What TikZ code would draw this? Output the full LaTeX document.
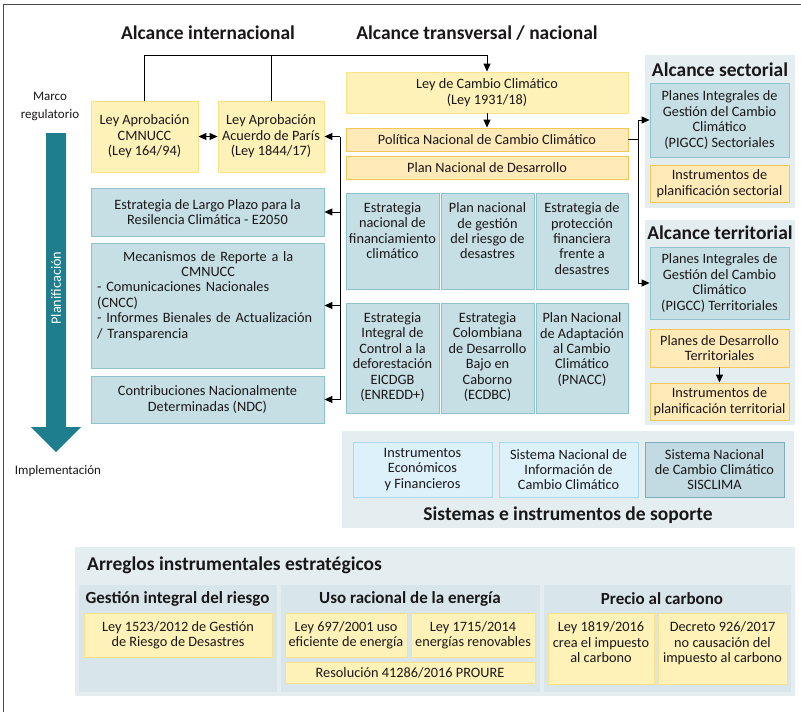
\documentclass[tikz,border=0pt]{standalone}
\usepackage{fontspec}
\setmainfont{Carlito}
\usetikzlibrary{arrows.meta,calc}
\definecolor{ylwf}{HTML}{FFF2B8}
\definecolor{ylwd}{HTML}{FCE08A}
\definecolor{orgf}{HTML}{FFEAB8}
\definecolor{orgd}{HTML}{F8C656}
\definecolor{bluf}{HTML}{C6DFE5}
\definecolor{blud}{HTML}{8EC2CE}
\definecolor{panel}{HTML}{E4EEF1}
\definecolor{subpanel}{HTML}{D8E6EB}
\definecolor{ltbf}{HTML}{DDF1FB}
\definecolor{ltbd}{HTML}{A8D9EE}
\definecolor{sisf}{HTML}{C2DAE1}
\definecolor{sisd}{HTML}{7EADBA}
\definecolor{tealc}{HTML}{1F7E8D}
\definecolor{txt}{HTML}{1A1718}
\definecolor{framec}{HTML}{4A4A4A}
\begin{document}
\begin{tikzpicture}[x=1pt,y=-1pt,
  every node/.style={text=txt, font=\fontsize{14.3}{15.4}\selectfont},
  bx/.style={rectangle, line width=0.9pt, inner sep=0pt, align=center},
  yb/.style={bx, fill=ylwf, draw=ylwd},
  ob/.style={bx, fill=orgf, draw=orgd},
  bb/.style={bx, fill=bluf, draw=blud},
  lb/.style={bx, fill=ltbf, draw=ltbd},
  sb/.style={bx, fill=sisf, draw=sisd},
  tt/.style={inner sep=0pt, align=center, anchor=north},
  hd/.style={font=\fontsize{19.5}{22}\selectfont\bfseries, inner sep=0pt},
  sh/.style={font=\fontsize{17}{20}\selectfont\bfseries, inner sep=0pt},
  sm/.style={font=\fontsize{13}{18}\selectfont, inner sep=0pt, align=center},
  arr/.style={line width=1pt, -{Triangle[length=8pt,width=7pt]}},
  ln/.style={line width=1pt},
]
\useasboundingbox (0,0) rectangle (801,712);
\fill[white] (0,0) rectangle (801,712);
% frame
\draw[framec, line width=1.5pt] (3.5,712) -- (3.5,4.5) -- (801,4.5);

% panels
\fill[panel] (645,55) rectangle (795,208);
\fill[panel] (645,220) rectangle (795,425);
\fill[panel] (342,431) rectangle (794,528);
\fill[panel] (75,547) rectangle (795,696);
\fill[subpanel] (79,585) rectangle (277,692);
\fill[subpanel] (281,585) rectangle (540,692);
\fill[subpanel] (544,585) rectangle (791,692);

% headings
\node[hd] (hint) at (208,33) {Alcance internacional};
\node[hd] (hnat) at (477,33) {Alcance transversal / nacional};
\node[hd] (hsec) at (720,70) {Alcance sectorial};
\node[hd] (hter) at (720,233) {Alcance territorial};
\node[hd] (hsis) at (568,515) {Sistemas e instrumentos de soporte};
\node[hd, anchor=west] (harr) at (87,565) {Arreglos instrumentales estratégicos};
\node[sh] (hgir) at (177.5,599) {Gestión integral del riesgo};
\node[sh] (hure) at (410,599) {Uso racional de la energía};
\node[sh] (hpc) at (662,599) {Precio al carbono};

% left side
\node[sm] (marco) at (50,106) {Marco\\regulatorio};
\node[sm] (impl) at (58,471) {Implementación};
\fill[tealc] (46,133) -- (66,133) -- (66,427) -- (81,427) -- (56,452) -- (31,427) -- (46,427) -- cycle;
\node[rotate=90, text=white, inner sep=0pt] (plan) at (56,288) {Planificación};

% international
\node[yb, minimum width=107, minimum height=71] (cmnucc) at (144.5,136.5) {Ley Aprobación\\CMNUCC\\(Ley 164/94)};
\node[yb, minimum width=106, minimum height=71] (paris) at (271,136.5) {Ley Aprobación\\Acuerdo de París\\(Ley 1844/17)};
\node[bb, minimum width=233, minimum height=48] (e2050) at (207.5,212) {Estrategia de Largo Plazo para la\\Resilencia Climática - E2050};
\node[bb, minimum width=233, minimum height=125] (mec) at (207.5,305.5) {};
\node[anchor=north west, inner sep=0pt, text width=222pt] (mect) at (97,251)
  {{\centering Mecanismos de Reporte a la\\ CMNUCC\par}\raggedright - Comunicaciones Nacionales\\ (CNCC)\\ - Informes Bienales de Actualización\\ / Transparencia\par};
\node[bb, minimum width=233, minimum height=47] (ndc) at (207.5,399.5) {Contribuciones Nacionalmente\\Determinadas (NDC)};

% national
\node[yb, minimum width=282, minimum height=41] (ley) at (487,92.5) {Ley de Cambio Climático\\(Ley 1931/18)};
\node[ob, minimum width=282, minimum height=23] (pol) at (487,139.5) {Política Nacional de Cambio Climático};
\node[ob, minimum width=282, minimum height=23] (pnd) at (487,167.5) {Plan Nacional de Desarrollo};

\node[bb, minimum width=93, minimum height=96] (g1) at (392.5,241) {};
\node[bb, minimum width=93, minimum height=96] (g2) at (487.5,241) {};
\node[bb, minimum width=92, minimum height=96] (g3) at (582,241) {};
\node[bb, minimum width=93, minimum height=110] (g4) at (392.5,358) {};
\node[bb, minimum width=93, minimum height=110] (g5) at (487.5,358) {};
\node[bb, minimum width=92, minimum height=110] (g6) at (582,358) {};
\node[tt] (g1t) at ($(g1.north)+(0,10)$) {Estrategia\\nacional de\\financiamiento\\climático};
\node[tt] (g2t) at ($(g2.north)+(0,10)$) {Plan nacional\\de gestión\\del riesgo de\\desastres};
\node[tt] (g3t) at ($(g3.north)+(0,10)$) {Estrategia de\\protección\\financiera\\frente a\\desastres};
\node[tt] (g4t) at ($(g4.north)+(0,10)$) {Estrategia\\Integral de\\Control a la\\deforestación\\EICDGB\\(ENREDD+)};
\node[tt] (g5t) at ($(g5.north)+(0,10)$) {Estrategia\\Colombiana\\de Desarrollo\\Bajo en\\Caborno\\(ECDBC)};
\node[tt] (g6t) at ($(g6.north)+(0,10)$) {Plan Nacional\\de Adaptación\\al Cambio\\Climático\\(PNACC)};

% sectoral / territorial
\node[bb, minimum width=139, minimum height=74] (pigccS) at (719.5,120) {Planes Integrales de\\Gestión del Cambio\\Climático\\(PIGCC) Sectoriales};
\node[ob, minimum width=139, minimum height=37] (isec) at (719.5,183.5) {Instrumentos de\\planificación sectorial};
\node[bb, minimum width=139, minimum height=72] (pigccT) at (719.5,283) {Planes Integrales de\\Gestión del Cambio\\Climático\\(PIGCC) Territoriales};
\node[ob, minimum width=139, minimum height=38] (pdt) at (719.5,348) {Planes de Desarrollo\\Territoriales};
\node[ob, minimum width=139, minimum height=37] (ipt) at (719.5,401.5) {Instrumentos de\\planificación territorial};

% support systems
\node[lb, minimum width=139, minimum height=55] (ie) at (422.5,469.5) {Instrumentos\\Económicos\\y Financieros};
\node[lb, minimum width=139, minimum height=55] (sni) at (568.5,469.5) {Sistema Nacional de\\Información de\\Cambio Climático};
\node[sb, minimum width=139, minimum height=55] (sis) at (714.5,469.5) {Sistema Nacional\\de Cambio Climático\\SISCLIMA};

% bottom
\node[yb, minimum width=188, minimum height=44] (l1523) at (178,635) {Ley 1523/2012 de Gestión\\de Riesgo de Desastres};
\node[yb, minimum width=122, minimum height=44] (l697) at (346,635) {Ley 697/2001 uso\\eficiente de energía};
\node[yb, minimum width=124, minimum height=44] (l1715) at (473,635) {Ley 1715/2014\\energías renovables};
\node[yb, minimum width=250, minimum height=21] (res) at (410,672.5) {Resolución 41286/2016 PROURE};
\node[yb, minimum width=106, minimum height=71] (l1819) at (601,648.5) {};
\node[yb, minimum width=129, minimum height=71] (dec) at (722.5,648.5) {};
\node[tt] (l1819t) at ($(l1819.north)+(0,9)$) {Ley 1819/2016\\crea el impuesto\\al carbono};
\node[tt] (dect) at ($(dec.north)+(0,9)$) {Decreto 926/2017\\no causación del\\impuesto al carbono};

% connectors
\coordinate (top) at (487,55);
\draw[arr] (cmnucc.north) |- (top) -- (ley.north);
\draw[ln] (paris.north) -- (paris.north |- top);
\draw[arr] (ley.south) -- (pol.north);
\draw[line width=1pt, {Triangle[length=8pt,width=7pt]}-{Triangle[length=8pt,width=7pt]}] (cmnucc.east) -- (paris.west);

\coordinate (b1) at (340,136.5);
\coordinate (b4) at (340,399.5);
\coordinate (b2) at (e2050.east -| b1);
\coordinate (b3) at (mec.east -| b1);
\draw[ln] (b1) -- (b4);
\draw[arr] (b1) -- (paris.east);
\draw[arr] (b2) -- (e2050.east);
\draw[arr] (b3) -- (mec.east);
\draw[arr] (b4) -- (ndc.east);

\coordinate (r0) at (638,139.5);
\coordinate (rS) at (pigccS.west -| r0);
\coordinate (rT) at (pigccT.west -| r0);
\draw[ln] (pol.east) -- (r0);
\draw[ln] (rS) -- (rT);
\draw[arr] (rS) -- (pigccS.west);
\draw[arr] (rT) -- (pigccT.west);
\draw[arr] (pdt.south) -- (ipt.north);
\end{tikzpicture}
\end{document}
